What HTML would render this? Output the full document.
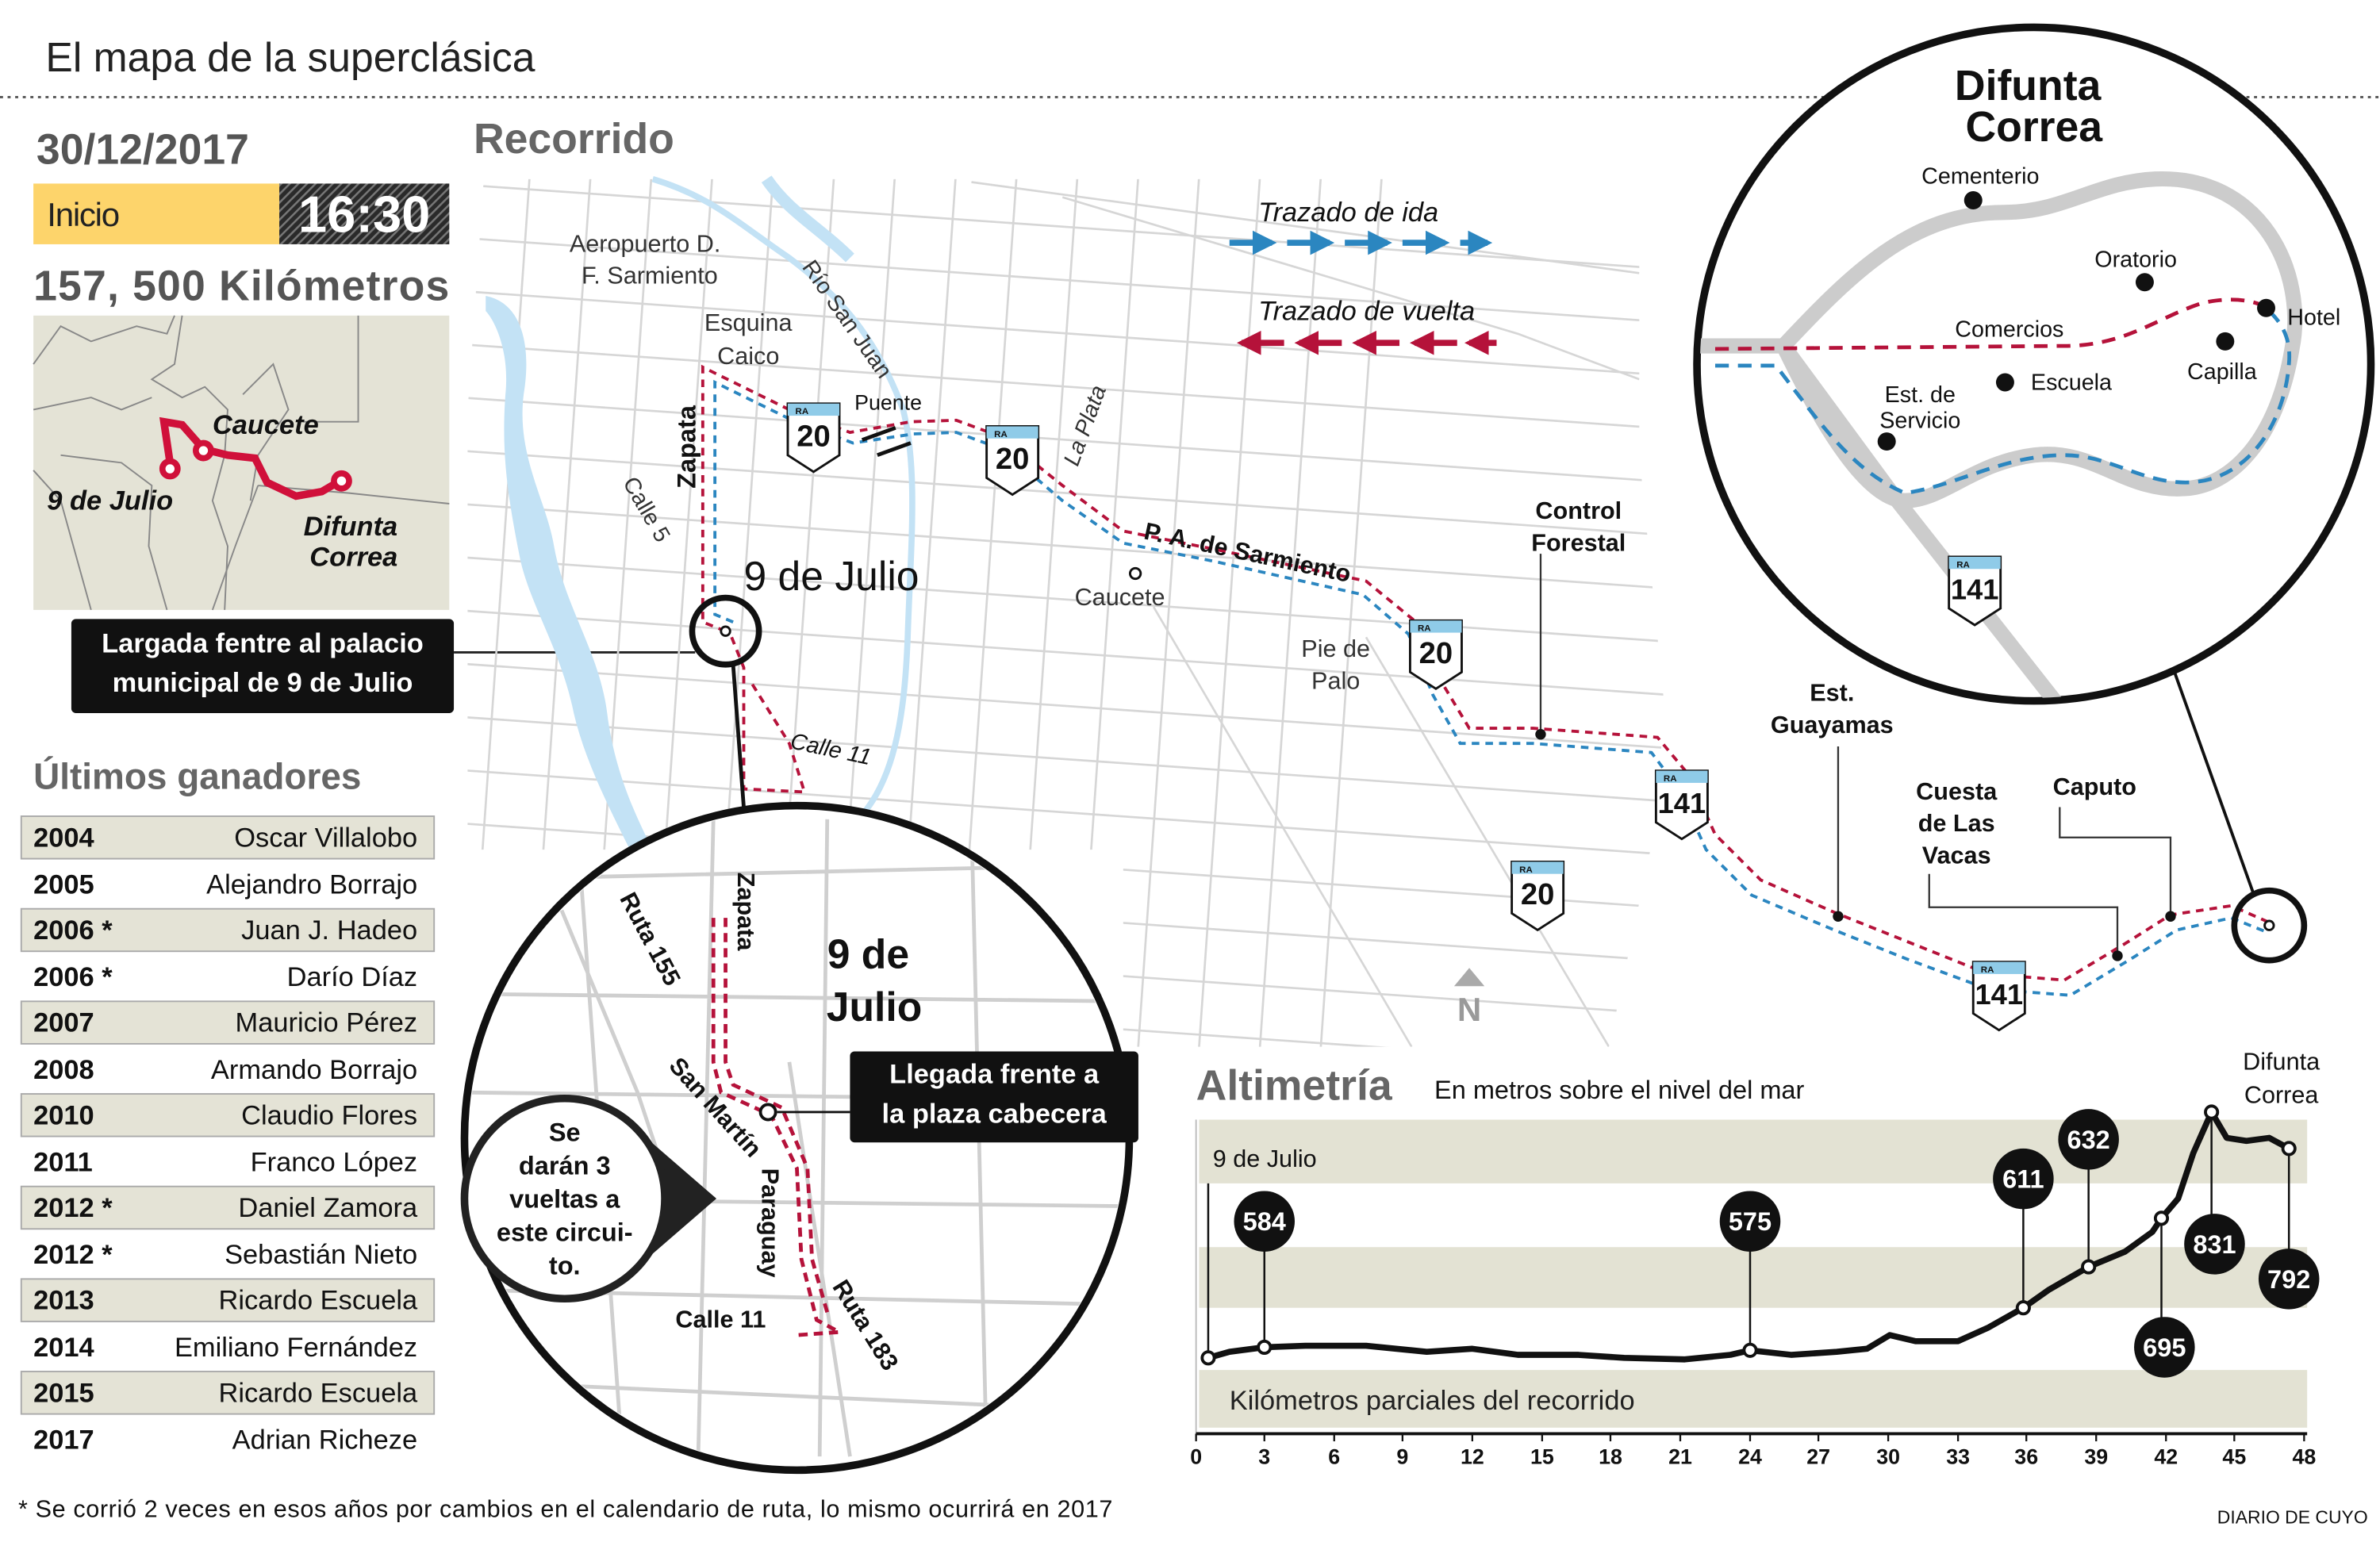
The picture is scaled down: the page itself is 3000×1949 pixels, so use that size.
<!DOCTYPE html>
<html><head><meta charset="utf-8"><style>html,body{margin:0;padding:0;background:#fff}svg{display:block}text{font-family:"Liberation Sans",sans-serif}</style></head><body>
<svg width="3000" height="1949" viewBox="0 0 1568 1019" preserveAspectRatio="none" xmlns="http://www.w3.org/2000/svg">
<defs>
<pattern id="hatch" width="4" height="4" patternUnits="userSpaceOnUse" patternTransform="rotate(45)"><rect width="4" height="4" fill="#2a2a2a"/><rect width="1.3" height="4" fill="#777"/></pattern>
<clipPath id="mapclip"><polygon points="308,118 1080,118 1080,300 1100,500 1060,690 740,690 740,560 308,560"/></clipPath>
<clipPath id="bigc"><circle cx="1340" cy="240" r="220"/></clipPath>
<clipPath id="botc"><circle cx="525" cy="750" r="216"/></clipPath>
<marker id="ar" viewBox="0 0 10 10" refX="8" refY="5" markerWidth="4" markerHeight="4" orient="auto"><path d="M0,0L10,5L0,10z" fill="#b5123a"/></marker>
<marker id="ab" viewBox="0 0 10 10" refX="8" refY="5" markerWidth="4" markerHeight="4" orient="auto"><path d="M0,0L10,5L0,10z" fill="#2b86c0"/></marker>
</defs>
<rect width="1568" height="1019" fill="#fff"/>
<text x="30" y="47" font-size="27" fill="#222">El mapa de la superclásica</text>
<line x1="0" y1="64" x2="1568" y2="64" stroke="#555" stroke-width="1.5" stroke-dasharray="2,3"/>
<text x="24" y="108" font-size="28" font-weight="bold" fill="#555">30/12/2017</text>
<rect x="22" y="121" width="162" height="40" fill="#fdd46b"/>
<text x="31" y="149" font-size="22" fill="#222" textLength="48">Inicio</text>
<rect x="184" y="121" width="112" height="40" fill="url(#hatch)"/>
<text x="240" y="153" font-size="34" font-weight="bold" fill="#fff" text-anchor="middle">16:30</text>
<text x="22" y="198" font-size="28" font-weight="bold" fill="#555" textLength="274">157, 500 Kilómetros</text>
<rect x="22" y="208" width="274" height="194" fill="#e4e3d6"/>
<g stroke="#888" stroke-width="1" fill="none">
<path d="M22,240 L40,215 L60,225 L90,215 L110,220 L115,208"/><path d="M120,208 L115,240 L100,250 L120,262 L135,255 L150,270 L148,300 L140,330 L150,360 L148,402"/>
<path d="M236,208 L236,278 L200,278"/><path d="M22,270 L60,262 L80,270 L100,262"/><path d="M40,300 L80,305 L100,320 L98,360 L110,402"/>
<path d="M160,260 L180,240 L190,270 L170,300 L165,330"/><path d="M170,320 L230,325 L296,332"/><path d="M170,320 L155,360 L140,402"/>
<path d="M22,310 L40,330 L60,402"/>
</g>
<path d="M112,305 L108,278 L120,280 L134,296 L150,300 L168,302 L176,318 L195,327 L212,324 L224,317" stroke="#d0103a" stroke-width="5" fill="none"/>
<g fill="#fff" stroke="#d0103a" stroke-width="4"><circle cx="112" cy="309" r="5"/><circle cx="134" cy="297" r="5"/><circle cx="225" cy="317" r="5"/></g>
<g font-style="italic" font-weight="bold" font-size="18" fill="#111"><text x="140" y="286">Caucete</text><text x="31" y="336">9 de Julio</text><text x="200" y="353">Difunta</text><text x="204" y="373">Correa</text></g>
<rect x="47" y="408" width="252" height="62" rx="3" fill="#111"/>
<text x="173" y="430" font-size="18" font-weight="bold" fill="#fff" text-anchor="middle">Largada  fentre al palacio</text>
<text x="173" y="456" font-size="18" font-weight="bold" fill="#fff" text-anchor="middle">municipal de 9 de Julio</text>
<line x1="299" y1="430" x2="458" y2="430" stroke="#222" stroke-width="1.5"/>
<text x="22" y="520" font-size="24" font-weight="bold" fill="#666">Últimos ganadores</text>
<g font-size="18" fill="#111">
<rect x="14" y="538" width="272" height="28" fill="#e4e3d6" stroke="#aaa"/><text x="22" y="558" font-weight="bold">2004</text><text x="275" y="558" text-anchor="end">Oscar Villalobo</text>
<text x="22" y="589" font-weight="bold">2005</text><text x="275" y="589" text-anchor="end">Alejandro Borrajo</text>
<rect x="14" y="599" width="272" height="28" fill="#e4e3d6" stroke="#aaa"/><text x="22" y="619" font-weight="bold">2006 *</text><text x="275" y="619" text-anchor="end">Juan J. Hadeo</text>
<text x="22" y="650" font-weight="bold">2006 *</text><text x="275" y="650" text-anchor="end">Darío Díaz</text>
<rect x="14" y="660" width="272" height="28" fill="#e4e3d6" stroke="#aaa"/><text x="22" y="680" font-weight="bold">2007</text><text x="275" y="680" text-anchor="end">Mauricio Pérez</text>
<text x="22" y="711" font-weight="bold">2008</text><text x="275" y="711" text-anchor="end">Armando Borrajo</text>
<rect x="14" y="721" width="272" height="28" fill="#e4e3d6" stroke="#aaa"/><text x="22" y="741" font-weight="bold">2010</text><text x="275" y="741" text-anchor="end">Claudio Flores</text>
<text x="22" y="772" font-weight="bold">2011</text><text x="275" y="772" text-anchor="end">Franco López</text>
<rect x="14" y="782" width="272" height="28" fill="#e4e3d6" stroke="#aaa"/><text x="22" y="802" font-weight="bold">2012 *</text><text x="275" y="802" text-anchor="end">Daniel Zamora</text>
<text x="22" y="833" font-weight="bold">2012 *</text><text x="275" y="833" text-anchor="end">Sebastián Nieto</text>
<rect x="14" y="843" width="272" height="28" fill="#e4e3d6" stroke="#aaa"/><text x="22" y="863" font-weight="bold">2013</text><text x="275" y="863" text-anchor="end">Ricardo Escuela</text>
<text x="22" y="894" font-weight="bold">2014</text><text x="275" y="894" text-anchor="end">Emiliano Fernández</text>
<rect x="14" y="904" width="272" height="28" fill="#e4e3d6" stroke="#aaa"/><text x="22" y="924" font-weight="bold">2015</text><text x="275" y="924" text-anchor="end">Ricardo Escuela</text>
<text x="22" y="955" font-weight="bold">2017</text><text x="275" y="955" text-anchor="end">Adrian Richeze</text>
</g>
<text x="12" y="1000" font-size="16" fill="#111" textLength="721">* Se corrió 2 veces en esos años por cambios en el calendario de ruta, lo mismo ocurrirá en 2017</text>
<text x="1560" y="1004" font-size="12" fill="#111" text-anchor="end">DIARIO DE CUYO</text>
<text x="312" y="101" font-size="28" font-weight="bold" fill="#666">Recorrido</text>

<g clip-path="url(#mapclip)" stroke="#d6d6d6" stroke-width="1.4" fill="none">
<g transform="rotate(4 700 400)">
<path d="M300,150H1100M300,185H1100M300,220H1100M300,255H1100M300,290H1100M300,325H1100M300,360H1100M300,395H1100M300,430H1100M300,465H1100M300,500H1100M300,535H1100M300,570H1100M300,605H1100M300,640H1100M300,675H1100"/>
<path d="M330,100V700M370,100V700M410,100V700M450,100V700M490,100V700M530,100V700M570,100V700M610,100V700M650,100V700M690,100V700M730,100V700M770,100V700M810,100V700M850,100V700M890,100V700"/>
</g>
<path d="M700,130L1000,220L1080,250M640,120L1080,180M900,420L1060,690M760,400L930,690"/>
</g>
<path d="M320,195 C345,200 350,230 345,260 C340,300 360,330 365,360 C372,400 395,430 400,470 C405,510 420,540 430,560 L415,560 C400,530 385,500 378,470 C370,430 350,400 343,370 C335,330 330,300 333,260 C336,230 325,210 320,205Z" fill="#c3e2f5"/>
<path d="M430,118 C470,130 490,150 520,170 C560,200 580,230 595,270 C605,310 600,360 598,420 C596,470 590,520 560,545" stroke="#c3e2f5" stroke-width="4" fill="none"/>
<path d="M505,118 C520,140 540,150 560,170" stroke="#c3e2f5" stroke-width="8" fill="none"/>
<path d="M478,416 L463,410 L463,242 L520,270 L560,285 L600,278 L630,277 L660,288 L700,320 L740,350 L800,362 L900,383 L933,410 L950,450 L968,480 L1010,480 L1092,486 L1112,510 L1130,550 L1160,580 L1210,602 L1260,622 L1310,642 L1360,646 L1400,622 L1430,603 L1470,597 L1495,608" stroke="#b5123a" stroke-width="2" stroke-dasharray="5,4" fill="none"/>
<path d="M483,410 L471,405 L471,252 L522,277 L562,292 L602,286 L630,285 L660,296 L700,330 L740,358 L800,370 L898,392 L928,418 L944,458 L962,490 L1010,490 L1088,496 L1106,520 L1124,560 L1154,590 L1206,612 L1256,632 L1310,652 L1364,656 L1404,632 L1434,613 L1470,605 L1495,615" stroke="#2b86c0" stroke-width="2" stroke-dasharray="5,4" fill="none"/>
<path d="M482,420 L490,440 L490,520 L530,522 L520,490 L495,450" stroke="#b5123a" stroke-width="2" stroke-dasharray="5,4" fill="none"/>
<line x1="568" y1="290" x2="590" y2="282" stroke="#111" stroke-width="2.5"/><line x1="578" y1="300" x2="600" y2="292" stroke="#111" stroke-width="2.5"/>
<g font-size="16" fill="#333">
<text x="425" y="166" text-anchor="middle">Aeropuerto D.</text><text x="428" y="187" text-anchor="middle">F. Sarmiento</text>
<text x="493" y="218" text-anchor="middle">Esquina</text><text x="493" y="240" text-anchor="middle">Caico</text>
<text x="528" y="176" transform="rotate(55 528 176)" font-size="15">Río San Juan</text>
<text x="563" y="270" font-size="14" fill="#111">Puente</text>
<text x="710" y="308" transform="rotate(-70 710 308)" font-size="15" font-style="italic">La Plata</text>
<text x="410" y="318" transform="rotate(60 410 318)" font-size="15">Calle 5</text>
<text x="520" y="493" transform="rotate(12 520 493)" font-size="15" font-style="italic" fill="#111">Calle 11</text>
<text x="708" y="399" fill="#333">Caucete</text>
<text x="880" y="433" text-anchor="middle">Pie de</text><text x="880" y="454" text-anchor="middle">Palo</text>
</g>
<text x="458" y="322" transform="rotate(-90 458 322)" font-size="17" font-weight="bold" fill="#111">Zapata</text>
<text x="490" y="389" font-size="27" fill="#111">9 de Julio</text>
<text x="753" y="355" transform="rotate(12 753 355)" font-size="16" font-weight="bold" fill="#111">P. A. de Sarmiento</text>
<g font-size="16" font-weight="bold" fill="#111" text-anchor="middle">
<text x="1040" y="342">Control</text><text x="1040" y="363">Forestal</text>
<text x="1207" y="462">Est.</text><text x="1207" y="483">Guayamas</text>
<text x="1289" y="527">Cuesta</text><text x="1289" y="548">de Las</text><text x="1289" y="569">Vacas</text>
<text x="1380" y="524">Caputo</text>
</g>
<g stroke="#333" stroke-width="1.2" fill="none">
<path d="M1015,365V484M1211,492V604M1271,576V598H1395V630M1357,532V552H1430V604"/>
</g>
<g fill="#111"><circle cx="1015" cy="484" r="3.5"/><circle cx="1211" cy="604" r="3.5"/><circle cx="1395" cy="630" r="3.5"/><circle cx="1430" cy="604" r="3.5"/></g>
<circle cx="748" cy="378" r="3.5" fill="#fff" stroke="#111" stroke-width="1.5"/>
<g font-weight="bold" text-anchor="middle" fill="#111">
<g transform="translate(519,266)"><path d="M0,0H34V34L17,45L0,34Z" fill="#fff" stroke="#111" stroke-width="1.5"/><rect x="0" y="0" width="34" height="8" fill="#8fcbe8"/><text x="5" y="7" font-size="6" text-anchor="start">RA</text><text x="17" y="28" font-size="20">20</text></g>
<g transform="translate(650,281)"><path d="M0,0H34V34L17,45L0,34Z" fill="#fff" stroke="#111" stroke-width="1.5"/><rect x="0" y="0" width="34" height="8" fill="#8fcbe8"/><text x="5" y="7" font-size="6" text-anchor="start">RA</text><text x="17" y="28" font-size="20">20</text></g>
<g transform="translate(929,409)"><path d="M0,0H34V34L17,45L0,34Z" fill="#fff" stroke="#111" stroke-width="1.5"/><rect x="0" y="0" width="34" height="8" fill="#8fcbe8"/><text x="5" y="7" font-size="6" text-anchor="start">RA</text><text x="17" y="28" font-size="20">20</text></g>
<g transform="translate(996,568)"><path d="M0,0H34V34L17,45L0,34Z" fill="#fff" stroke="#111" stroke-width="1.5"/><rect x="0" y="0" width="34" height="8" fill="#8fcbe8"/><text x="5" y="7" font-size="6" text-anchor="start">RA</text><text x="17" y="28" font-size="20">20</text></g>
<g transform="translate(1091,508)"><path d="M0,0H34V34L17,45L0,34Z" fill="#fff" stroke="#111" stroke-width="1.5"/><rect x="0" y="0" width="34" height="8" fill="#8fcbe8"/><text x="5" y="7" font-size="6" text-anchor="start">RA</text><text x="17" y="28" font-size="19">141</text></g>
<g transform="translate(1300,634)"><path d="M0,0H34V34L17,45L0,34Z" fill="#fff" stroke="#111" stroke-width="1.5"/><rect x="0" y="0" width="34" height="8" fill="#8fcbe8"/><text x="5" y="7" font-size="6" text-anchor="start">RA</text><text x="17" y="28" font-size="19">141</text></g>
</g>
<path d="M968,638L958,650H978Z" fill="#aaa"/><text x="968" y="673" font-size="22" font-weight="bold" fill="#999" text-anchor="middle">N</text>
<text x="829" y="146" font-size="18" font-style="italic" fill="#111">Trazado de ida</text>
<text x="829" y="211" font-size="18" font-style="italic" fill="#111">Trazado de vuelta</text>
<g stroke="#2b86c0" stroke-width="4" marker-end="url(#ab)"><line x1="810" y1="160" x2="838" y2="160"/><line x1="848" y1="160" x2="876" y2="160"/><line x1="886" y1="160" x2="914" y2="160"/><line x1="924" y1="160" x2="952" y2="160"/><line x1="962" y1="160" x2="980" y2="160"/></g>
<g stroke="#b5123a" stroke-width="4" marker-end="url(#ar)"><line x1="846" y1="226" x2="818" y2="226"/><line x1="884" y1="226" x2="856" y2="226"/><line x1="922" y1="226" x2="894" y2="226"/><line x1="960" y1="226" x2="932" y2="226"/><line x1="986" y1="226" x2="968" y2="226"/></g>
<line x1="1428" y1="430" x2="1485" y2="590" stroke="#111" stroke-width="2"/>
<circle cx="1495" cy="610" r="23" fill="none" stroke="#111" stroke-width="4"/>
<circle cx="1495" cy="610" r="3" fill="#fff" stroke="#111" stroke-width="1.5"/>
<line x1="483" y1="438" x2="490" y2="532" stroke="#111" stroke-width="2.5"/>
<circle cx="478" cy="416" r="22" fill="none" stroke="#111" stroke-width="4"/>
<circle cx="478" cy="416" r="3" fill="#fff" stroke="#111" stroke-width="1.5"/>
<circle cx="1340" cy="240" r="222" fill="#fff" stroke="#111" stroke-width="5"/>
<g clip-path="url(#bigc)">
<path d="M1120,228 L1175,228 C1220,180 1260,140 1320,140 C1360,140 1380,120 1420,118 C1490,115 1520,180 1510,230 C1500,290 1470,320 1440,322 C1400,325 1380,295 1340,300 C1300,305 1280,330 1255,330 C1230,330 1200,280 1175,228" stroke="#ccc" stroke-width="10" fill="none"/>
<path d="M1175,228 L1250,330 L1360,470" stroke="#ccc" stroke-width="10" fill="none"/>
<path d="M1130,230 L1360,228 C1400,228 1420,210 1450,200 C1470,195 1490,198 1495,205" stroke="#b5123a" stroke-width="2.5" stroke-dasharray="9,6" fill="none"/>
<path d="M1130,241 L1170,241 C1200,280 1220,310 1255,325 C1290,320 1320,300 1360,300 C1390,300 1410,318 1440,318 C1480,318 1505,280 1508,240 C1510,220 1500,210 1495,205" stroke="#2b86c0" stroke-width="2.5" stroke-dasharray="9,6" fill="none"/>
</g>
<g fill="#111"><circle cx="1300" cy="132" r="6"/><circle cx="1413" cy="186" r="6"/><circle cx="1466" cy="225" r="6"/><circle cx="1493" cy="203" r="6"/><circle cx="1321" cy="252" r="6"/><circle cx="1243" cy="291" r="6"/></g>
<text x="1336" y="66" font-size="28" font-weight="bold" fill="#111" text-anchor="middle">Difunta</text>
<text x="1340" y="93" font-size="28" font-weight="bold" fill="#111" text-anchor="middle">Correa</text>
<g font-size="15" fill="#111">
<text x="1266" y="121">Cementerio</text><text x="1380" y="176">Oratorio</text><text x="1507" y="214">Hotel</text>
<text x="1288" y="222">Comercios</text><text x="1338" y="257">Escuela</text><text x="1441" y="250">Capilla</text>
<text x="1265" y="265" text-anchor="middle">Est. de</text><text x="1265" y="282" text-anchor="middle">Servicio</text>
</g>
<g transform="translate(1284,367)" font-weight="bold" text-anchor="middle" fill="#111"><path d="M0,0H34V34L17,45L0,34Z" fill="#fff" stroke="#111" stroke-width="1.5"/><rect x="0" y="0" width="34" height="8" fill="#8fcbe8"/><text x="5" y="7" font-size="6" text-anchor="start">RA</text><text x="17" y="28" font-size="19">141</text></g>
<circle cx="525" cy="750" r="219" fill="#fff" stroke="#111" stroke-width="5"/>
<g clip-path="url(#botc)" stroke="#cfcfcf" stroke-width="2.5" fill="none">
<path d="M300,580L740,570M300,655L740,660M300,720L740,725M300,790L740,795M300,850L740,860M300,910L740,930M380,540L410,960M470,540L460,960M545,540L540,960M640,540L650,960M370,600L420,720L440,780M520,700L560,960"/>
</g>
<path d="M470,605 L470,700 L475,720 L508,735 L525,770 L528,830 L538,870 L553,878 L525,880" stroke="#b5123a" stroke-width="2.5" stroke-dasharray="6,4" fill="none"/>
<path d="M478,605 L478,700 L483,715 L515,730 L532,770 L535,830 L545,865" stroke="#b5123a" stroke-width="2.5" stroke-dasharray="6,4" fill="none"/>
<circle cx="506" cy="733" r="5" fill="#fff" stroke="#111" stroke-width="2"/>
<g font-size="16" font-weight="bold" fill="#111">
<text x="408" y="592" transform="rotate(62 408 592)">Ruta 155</text>
<text x="486" y="575" transform="rotate(90 486 575)">Zapata</text>
<text x="440" y="703" transform="rotate(48 440 703)">San Martín</text>
<text x="502" y="770" transform="rotate(90 502 770)">Paraguay</text>
<text x="445" y="875">Calle 11</text>
<text x="548" y="848" transform="rotate(58 548 848)">Ruta 183</text>
</g>
<text x="572" y="638" font-size="27" font-weight="bold" fill="#111" text-anchor="middle">9 de</text>
<text x="576" y="673" font-size="27" font-weight="bold" fill="#111" text-anchor="middle">Julio</text>
<line x1="512" y1="733" x2="560" y2="733" stroke="#111" stroke-width="1.5"/>
<rect x="560" y="693" width="190" height="60" rx="3" fill="#111"/>
<text x="655" y="714" font-size="18" font-weight="bold" fill="#fff" text-anchor="middle">Llegada  frente a</text>
<text x="655" y="740" font-size="18" font-weight="bold" fill="#fff" text-anchor="middle">la plaza cabecera</text>
<path d="M420,745 L472,790 L420,835Z" fill="#222"/>
<circle cx="372" cy="790" r="66" fill="#fff" stroke="#222" stroke-width="5"/>
<g font-size="17" font-weight="bold" fill="#111" text-anchor="middle"><text x="372" y="752">Se</text><text x="372" y="774">darán 3</text><text x="372" y="796">vueltas a</text><text x="372" y="818">este circui-</text><text x="372" y="840">to.</text></g>
<text x="788" y="725" font-size="28" font-weight="bold" fill="#666">Altimetría</text>
<text x="945" y="724" font-size="17" fill="#111">En metros sobre el nivel del mar</text>
<rect x="790" y="738" width="730" height="42" fill="#e3e2d3"/>
<rect x="790" y="822" width="730" height="40" fill="#e3e2d3"/>
<rect x="790" y="903" width="730" height="38" fill="#e3e2d3"/>
<line x1="788" y1="738" x2="788" y2="945" stroke="#bbb" stroke-width="1"/>
<line x1="788" y1="945" x2="1520" y2="945" stroke="#111" stroke-width="2"/>
<g stroke="#111" stroke-width="1.2"><line x1="788" y1="945" x2="788" y2="950"/><line x1="833" y1="945" x2="833" y2="950"/><line x1="879" y1="945" x2="879" y2="950"/><line x1="924" y1="945" x2="924" y2="950"/><line x1="970" y1="945" x2="970" y2="950"/><line x1="1016" y1="945" x2="1016" y2="950"/><line x1="1061" y1="945" x2="1061" y2="950"/><line x1="1107" y1="945" x2="1107" y2="950"/><line x1="1153" y1="945" x2="1153" y2="950"/><line x1="1198" y1="945" x2="1198" y2="950"/><line x1="1244" y1="945" x2="1244" y2="950"/><line x1="1290" y1="945" x2="1290" y2="950"/><line x1="1335" y1="945" x2="1335" y2="950"/><line x1="1381" y1="945" x2="1381" y2="950"/><line x1="1427" y1="945" x2="1427" y2="950"/><line x1="1472" y1="945" x2="1472" y2="950"/><line x1="1518" y1="945" x2="1518" y2="950"/></g>
<g font-size="14" font-weight="bold" fill="#111" text-anchor="middle">
<text x="788" y="965">0</text><text x="833" y="965">3</text><text x="879" y="965">6</text><text x="924" y="965">9</text><text x="970" y="965">12</text><text x="1016" y="965">15</text><text x="1061" y="965">18</text><text x="1107" y="965">21</text><text x="1153" y="965">24</text><text x="1198" y="965">27</text><text x="1244" y="965">30</text><text x="1290" y="965">33</text><text x="1335" y="965">36</text><text x="1381" y="965">39</text><text x="1427" y="965">42</text><text x="1472" y="965">45</text><text x="1518" y="965">48</text>
</g>
<text x="799" y="769" font-size="16" fill="#111">9 de Julio</text>
<text x="810" y="929" font-size="18" fill="#222">Kilómetros parciales del recorrido</text>
<text x="1503" y="705" font-size="16" fill="#111" text-anchor="middle">Difunta</text>
<text x="1503" y="727" font-size="16" fill="#111" text-anchor="middle">Correa</text>
<g stroke="#111" stroke-width="1.3"><line x1="796" y1="895" x2="796" y2="780"/><line x1="833" y1="888" x2="833" y2="820"/><line x1="1153" y1="890" x2="1153" y2="820"/><line x1="1333" y1="862" x2="1333" y2="792"/><line x1="1376" y1="835" x2="1376" y2="765"/><line x1="1424" y1="803" x2="1424" y2="875"/><line x1="1457" y1="733" x2="1457" y2="805"/><line x1="1508" y1="757" x2="1508" y2="828"/></g>
<path d="M796,895 L810,891 L833,888 L860,887 L900,887 L940,891 L970,889 L1000,893 L1040,893 L1070,895 L1110,896 L1140,893 L1153,890 L1180,893 L1210,891 L1230,889 L1245,880 L1262,884 L1290,884 L1310,875 L1333,862 L1350,850 L1376,835 L1400,825 L1418,812 L1424,803 L1435,790 L1445,760 L1457,733 L1467,750 L1480,752 L1495,750 L1508,757" stroke="#111" stroke-width="4" fill="none" stroke-linejoin="round"/>
<g fill="#fff" stroke="#111" stroke-width="2"><circle cx="796" cy="895" r="4"/><circle cx="833" cy="888" r="4"/><circle cx="1153" cy="890" r="4"/><circle cx="1333" cy="862" r="4"/><circle cx="1376" cy="835" r="4"/><circle cx="1424" cy="803" r="4"/><circle cx="1457" cy="733" r="4"/><circle cx="1508" cy="757" r="4"/></g>
<g fill="#111"><circle cx="833" cy="805" r="20"/><circle cx="1153" cy="805" r="20"/><circle cx="1333" cy="777" r="20"/><circle cx="1376" cy="751" r="20"/><circle cx="1426" cy="888" r="20"/><circle cx="1459" cy="820" r="20"/><circle cx="1508" cy="843" r="20"/></g>
<g font-size="17" font-weight="bold" fill="#fff" text-anchor="middle"><text x="833" y="811">584</text><text x="1153" y="811">575</text><text x="1333" y="783">611</text><text x="1376" y="757">632</text><text x="1426" y="894">695</text><text x="1459" y="826">831</text><text x="1508" y="849">792</text></g>
</svg>
</body></html>
